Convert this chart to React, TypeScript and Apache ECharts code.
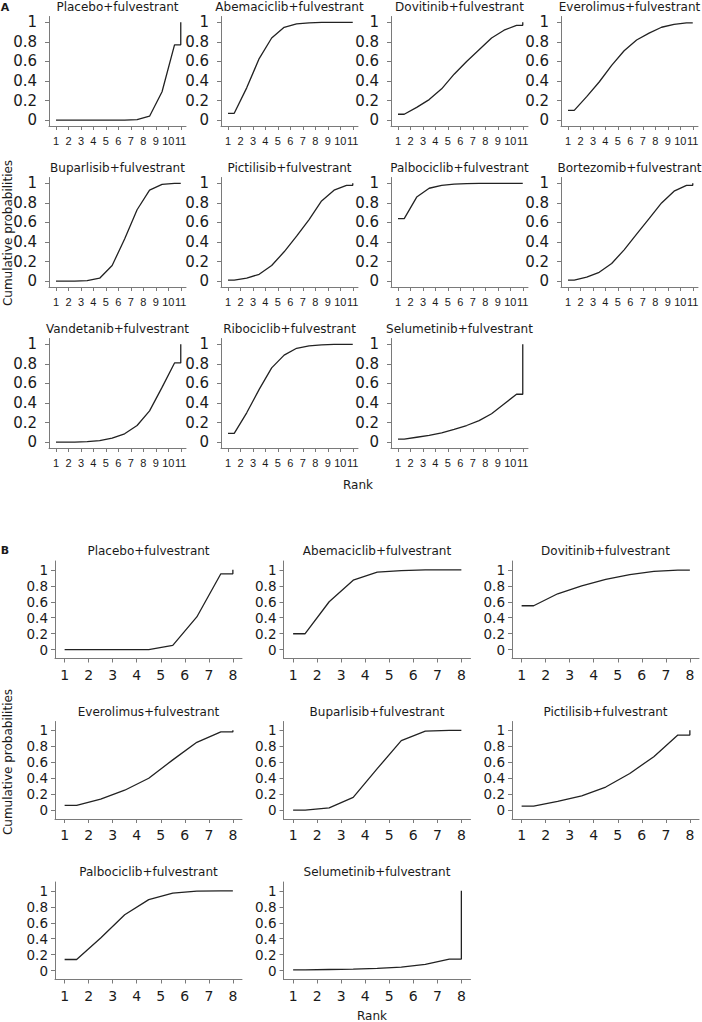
import React, { useEffect, useRef } from "react";
import * as echarts from "echarts";

// ---------- DATA ----------
const RANKS_A = [1, 2, 3, 4, 5, 6, 7, 8, 9, 10, 11];
const RANKS_B = [1, 2, 3, 4, 5, 6, 7, 8];
const PROB_TICKS = [0, 0.2, 0.4, 0.6, 0.8, 1];

// Panel A: cumulative rank probabilities (rank 1..11)
const TREATMENTS_A = [
  "Placebo+fulvestrant",
  "Abemaciclib+fulvestrant",
  "Dovitinib+fulvestrant",
  "Everolimus+fulvestrant",
  "Buparlisib+fulvestrant",
  "Pictilisib+fulvestrant",
  "Palbociclib+fulvestrant",
  "Bortezomib+fulvestrant",
  "Vandetanib+fulvestrant",
  "Ribociclib+fulvestrant",
  "Selumetinib+fulvestrant",
];
const placeboA = [0, 0, 0, 0, 0, 0, 0.005, 0.04, 0.29, 0.77, 1];
const abemaciclibA = [0.07, 0.33, 0.63, 0.84, 0.95, 0.985, 0.995, 0.999, 1, 1, 1];
const dovitinibA = [0.06, 0.13, 0.21, 0.32, 0.47, 0.6, 0.72, 0.84, 0.92, 0.97, 1];
const everolimusA = [0.1, 0.24, 0.39, 0.56, 0.71, 0.82, 0.89, 0.95, 0.98, 0.995, 1];
const buparlisibA = [0, 0, 0.005, 0.03, 0.16, 0.43, 0.73, 0.93, 0.99, 1, 1];
const pictilisibA = [0.01, 0.03, 0.07, 0.16, 0.3, 0.46, 0.63, 0.82, 0.93, 0.98, 1];
const palbociclibA = [0.64, 0.86, 0.95, 0.98, 0.993, 0.998, 1, 1, 1, 1, 1];
const bortezomibA = [0.01, 0.04, 0.09, 0.18, 0.32, 0.48, 0.64, 0.8, 0.92, 0.98, 1];
const vandetanibA = [0, 0.001, 0.005, 0.015, 0.04, 0.085, 0.17, 0.32, 0.56, 0.81, 1];
const ribociclibA = [0.09, 0.3, 0.54, 0.76, 0.89, 0.96, 0.985, 0.995, 1, 1, 1];
const selumetinibA = [0.03, 0.05, 0.07, 0.095, 0.13, 0.17, 0.22, 0.29, 0.39, 0.49, 1];
const VALUES_A = [
  placeboA, abemaciclibA, dovitinibA, everolimusA, buparlisibA, pictilisibA,
  palbociclibA, bortezomibA, vandetanibA, ribociclibA, selumetinibA,
];

// Panel B: cumulative rank probabilities (rank 1..8)
const TREATMENTS_B = [
  "Placebo+fulvestrant",
  "Abemaciclib+fulvestrant",
  "Dovitinib+fulvestrant",
  "Everolimus+fulvestrant",
  "Buparlisib+fulvestrant",
  "Pictilisib+fulvestrant",
  "Palbociclib+fulvestrant",
  "Selumetinib+fulvestrant",
];
const placeboB = [0, 0, 0, 0, 0.055, 0.41, 0.95, 1];
const abemaciclibB = [0.2, 0.6, 0.87, 0.97, 0.99, 1, 1, 1];
const dovitinibB = [0.55, 0.7, 0.8, 0.88, 0.94, 0.98, 0.995, 1];
const everolimusB = [0.06, 0.14, 0.25, 0.4, 0.63, 0.85, 0.98, 1];
const buparlisibB = [0, 0.03, 0.16, 0.52, 0.87, 0.99, 1, 1];
const pictilisibB = [0.05, 0.11, 0.18, 0.29, 0.46, 0.67, 0.94, 1];
const palbociclibB = [0.14, 0.41, 0.7, 0.89, 0.97, 0.995, 1, 1];
const selumetinibB = [0.01, 0.015, 0.02, 0.03, 0.045, 0.08, 0.145, 1];
const VALUES_B = [
  placeboB, abemaciclibB, dovitinibB, everolimusB,
  buparlisibB, pictilisibB, palbociclibB, selumetinibB,
];

// ---------- LAYOUT ----------
const FONT = "DejaVu Sans, Verdana, sans-serif";
const NARROW_FONT = "Liberation Sans, Arial, sans-serif";
const TEXT = "#1a1a1a";
const AXIS = "#7a7a7a";
const LINE = "#222222";

const A_LEFT = [49, 221, 391, 561];
const A_TOP = [16.5, 177.5, 338.5];
const A_W = 137;
const A_H = 109.5;

const B_LEFT = [55, 283.5, 512];
const B_TOP = [561, 721.5, 882];
const B_W = 187;
const B_H = 97.5;

// Stata-style cumulative ranking curve from cumulative probabilities
function rankCurve(cum: number[]): number[][] {
  const n = cum.length;
  const pts: number[][] = [[1, cum[0]]];
  for (let k = 1; k <= n - 1; k++) pts.push([k + 0.5, cum[k - 1]]);
  pts.push([n, cum[n - 2]]);
  pts.push([n, cum[n - 1]]);
  return pts;
}

export default function App() {
  const ref = useRef<HTMLDivElement>(null);

  useEffect(() => {
    if (!ref.current) return;
    const chart = echarts.init(ref.current, null, { renderer: "svg" });

    const grid: any[] = [];
    const xAxis: any[] = [];
    const yAxis: any[] = [];
    const series: any[] = [];
    const graphic: any[] = [];

    const addPanel = (
      left: number, top: number, w: number, h: number,
      ranks: number[], xMin: number, xMax: number, yPad: number,
      title: string, values: number[], yLabelMargin: number, yFont: number,
      xFont: number, xFamily: string
    ) => {
      const idx = grid.length;
      grid.push({ left, top, width: w, height: h, containLabel: false, outerBoundsMode: "none" });
      const labelBase = {
        color: TEXT, fontSize: xFont, fontFamily: xFamily, margin: 9,
        showMinLabel: true, showMaxLabel: true, hideOverlap: false,
      };
      const xIdx = xAxis.length;
      xAxis.push({
        type: "value", gridIndex: idx, min: xMin, max: xMax, position: "bottom",
        axisLine: { show: true, onZero: false, lineStyle: { color: AXIS, width: 1 } },
        axisTick: { show: true, customValues: ranks, length: 4, lineStyle: { color: AXIS } },
        axisLabel: { ...labelBase, customValues: ranks.slice(0, -1) },
        splitLine: { show: false },
      });
      // last rank label on its own axis, so crowded labels are all kept
      xAxis.push({
        type: "value", gridIndex: idx, min: xMin, max: xMax, position: "bottom", offset: 0,
        axisLine: { show: false, onZero: false },
        axisTick: { show: false },
        axisLabel: { ...labelBase, customValues: ranks.slice(-1) },
        splitLine: { show: false },
      });
      yAxis.push({
        type: "value", gridIndex: idx, min: -yPad, max: 1 + yPad,
        axisLine: { show: true, onZero: false, lineStyle: { color: AXIS, width: 1 } },
        axisTick: { show: true, customValues: PROB_TICKS, length: 4, lineStyle: { color: AXIS } },
        axisLabel: {
          customValues: PROB_TICKS, color: TEXT, fontSize: yFont, lineHeight: yFont,
          fontFamily: FONT, margin: yLabelMargin, formatter: (v: number) => String(v),
          showMinLabel: true, showMaxLabel: true, hideOverlap: false,
        },
        splitLine: { show: false },
      });
      series.push({
        type: "line", xAxisIndex: xIdx, yAxisIndex: idx,
        data: rankCurve(values), showSymbol: false, symbol: "none",
        lineStyle: { color: LINE, width: 1.3 }, silent: true,
      });
      graphic.push({
        type: "text", x: left + w / 2, y: top - 10,
        style: {
          text: title, align: "center", verticalAlign: "middle",
          font: `12px ${FONT}`, fill: TEXT,
        },
      });
    };

    TREATMENTS_A.forEach((t, i) => {
      const r = Math.floor(i / 4), c = i % 4;
      addPanel(A_LEFT[c], A_TOP[r], A_W, A_H, RANKS_A, 0.44, 11.42, 0.06, t, VALUES_A[i], 12, 15, 11, NARROW_FONT);
    });
    TREATMENTS_B.forEach((t, i) => {
      const r = Math.floor(i / 3), c = i % 3;
      addPanel(B_LEFT[c], B_TOP[r], B_W, B_H, RANKS_B, 0.6, 8.38, 0.11, t, VALUES_B[i], 7, 13.5, 14, FONT);
    });

    const txt = (text: string, x: number, y: number, extra: any = {}, font = `12px ${FONT}`) => ({
      type: "text", x, y, ...extra,
      style: { text, align: "center", verticalAlign: "middle", font, fill: TEXT },
    });
    graphic.push(txt("A", 5, 7, {}, `bold 11px ${FONT}`));
    graphic.push(txt("B", 5, 550, {}, `bold 11px ${FONT}`));
    graphic.push(txt("Cumulative probabilities", 8, 233, { rotation: Math.PI / 2 }));
    graphic.push(txt("Cumulative probabilities", 8, 762, { rotation: Math.PI / 2 }));
    graphic.push(txt("Rank", 358, 485));
    graphic.push(txt("Rank", 372, 1016));

    chart.setOption({
      animation: false,
      backgroundColor: "#ffffff",
      grid, xAxis, yAxis, series, graphic,
    });
    return () => chart.dispose();
  }, []);

  return (
    <div
      ref={ref}
      style={{ position: "absolute", left: 0, top: 0, width: 702, height: 1022 }}
    />
  );
}
